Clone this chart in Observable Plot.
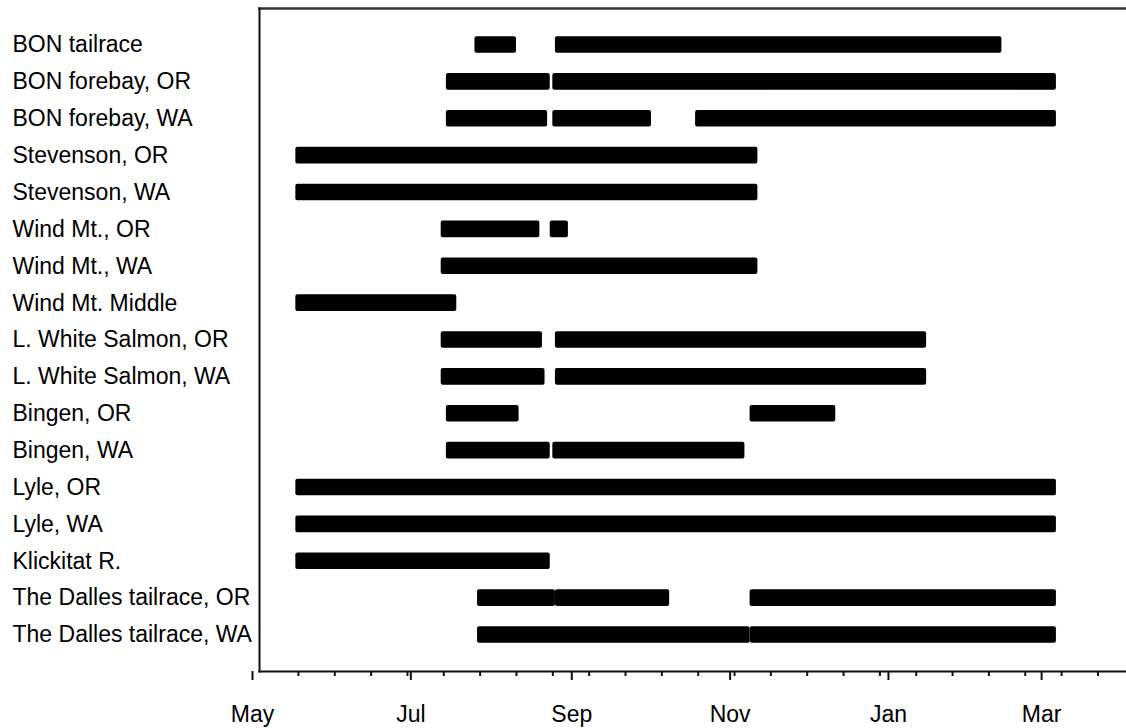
<!DOCTYPE html>
<html>
<head>
<meta charset="utf-8">
<script src="https://cdn.jsdelivr.net/npm/d3@7"></script>
<script src="https://cdn.jsdelivr.net/npm/@observablehq/plot@0.6"></script>
<style>
  html, body { margin: 0; padding: 0; background: #fff; }
  #chart { width: 1126px; height: 728px; overflow: hidden; }
</style>
</head>
<body>
<div id="chart"></div>
<script>
// Sites (rows, top to bottom)
const sites = [
  "BON tailrace",
  "BON forebay, OR",
  "BON forebay, WA",
  "Stevenson, OR",
  "Stevenson, WA",
  "Wind Mt., OR",
  "Wind Mt., WA",
  "Wind Mt. Middle",
  "L. White Salmon, OR",
  "L. White Salmon, WA",
  "Bingen, OR",
  "Bingen, WA",
  "Lyle, OR",
  "Lyle, WA",
  "Klickitat R.",
  "The Dalles tailrace, OR",
  "The Dalles tailrace, WA"
];

// Sampling periods per site: [start, end] pairs, aligned with `sites`
const periods = [
  [["2001-07-23", "2001-08-08"], ["2001-08-23", "2002-02-11"]],
  [["2001-07-12", "2001-08-21"], ["2001-08-22", "2002-03-04"]],
  [["2001-07-12", "2001-08-20"], ["2001-08-22", "2001-09-29"], ["2001-10-16", "2002-03-04"]],
  [["2001-05-15", "2001-11-09"]],
  [["2001-05-15", "2001-11-09"]],
  [["2001-07-10", "2001-08-17"], ["2001-08-21", "2001-08-28"]],
  [["2001-07-10", "2001-11-09"]],
  [["2001-05-15", "2001-07-16"]],
  [["2001-07-10", "2001-08-18"], ["2001-08-23", "2002-01-13"]],
  [["2001-07-10", "2001-08-19"], ["2001-08-23", "2002-01-13"]],
  [["2001-07-12", "2001-08-09"], ["2001-11-06", "2001-12-09"]],
  [["2001-07-12", "2001-08-21"], ["2001-08-22", "2001-11-04"]],
  [["2001-05-15", "2002-03-04"]],
  [["2001-05-15", "2002-03-04"]],
  [["2001-05-15", "2001-08-21"]],
  [["2001-07-24", "2001-08-23"], ["2001-08-23", "2001-10-06"], ["2001-11-06", "2002-03-04"]],
  [["2001-07-24", "2001-11-06"], ["2001-11-06", "2002-03-04"]]
];

// Axis
const xStart = "2001-05-01";
const xEnd = "2002-03-31";
const monthTicks = ["2001-05-01", "2001-07-01", "2001-09-01", "2001-11-01", "2002-01-01", "2002-03-01"];
const monthLabels = ["May", "Jul", "Sep", "Nov", "Jan", "Mar"];
const minorStart = "2001-05-16"; // minor ticks every 14 days

const parse = d3.utcParse("%Y-%m-%d");
const bars = sites.flatMap((site, i) =>
  periods[i].map(([s, e]) => ({site, start: parse(s), end: parse(e)}))
);
const majors = monthTicks.map(parse);
const minors = d3.utcDay.range(parse(minorStart), parse(xEnd), 14);
const labelOf = new Map(majors.map((d, i) => [+d, monthLabels[i]]));

const chart = Plot.plot({
  width: 1126,
  height: 728,
  marginTop: 8,
  marginBottom: 57,
  marginLeft: 259,
  marginRight: 0,
  style: {fontFamily: "'Liberation Sans', Arial, sans-serif", fontSize: "23px", color: "#000", background: "#fff"},
  x: {type: "utc", domain: [parse(xStart), parse(xEnd)]},
  y: {domain: sites, paddingInner: 0.55, paddingOuter: 0.765, round: false, axis: null},
  marks: [
    Plot.barX(bars, {x1: "start", x2: "end", y: "site", fill: "#000", rx: 2}),
    Plot.text(sites, {y: d => d, text: d => d, frameAnchor: "left", textAnchor: "start", dx: -247, fill: "#000", fontSize: 23}),
    Plot.axisX({ticks: minors, tickSize: 5, tickFormat: () => "", label: null, strokeWidth: 2, stroke: "#111"}),
    Plot.axisX({ticks: majors, tickSize: 9, tickPadding: 25, tickFormat: d => labelOf.get(+d), label: null, strokeWidth: 2, stroke: "#111", fontSize: 23, dx: -7, fill: "#000"}),
    Plot.frame({anchor: "top", stroke: "#333", strokeWidth: 2.5}),
    Plot.frame({anchor: "left", stroke: "#111", strokeWidth: 2}),
    Plot.frame({anchor: "bottom", stroke: "#111", strokeWidth: 2})
  ]
});
document.getElementById("chart").appendChild(chart);
</script>
</body>
</html>
